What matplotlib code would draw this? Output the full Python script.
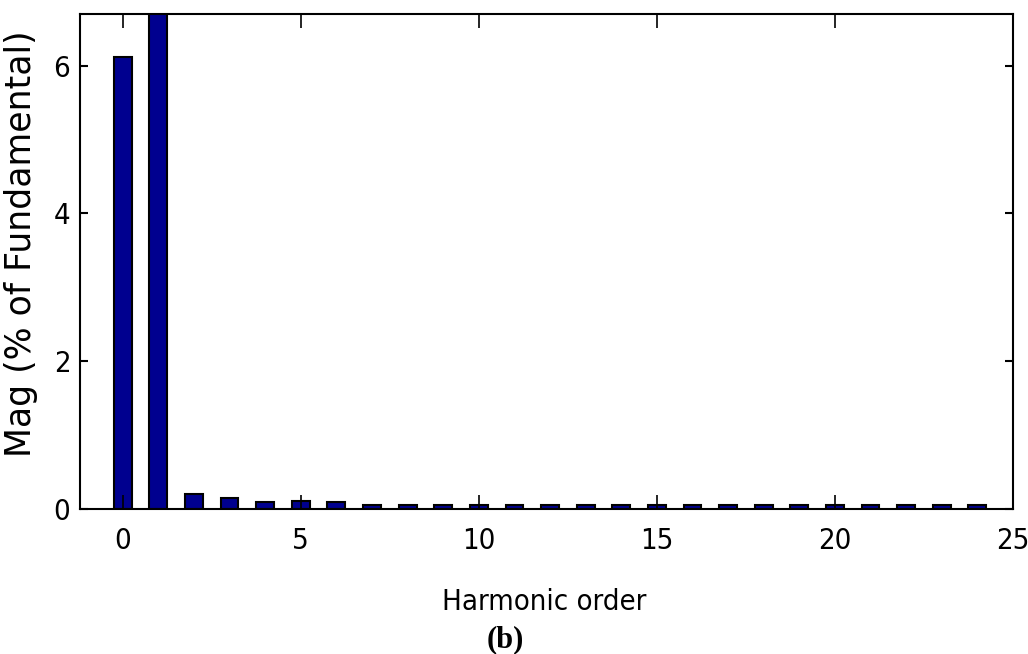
import matplotlib
matplotlib.use("Agg")
import matplotlib.pyplot as plt

# harmonic spectrum (% of fundamental), fundamental bar clipped by ylim
orders = list(range(0, 25))
mags = [6.12, 100.0, 0.20, 0.15, 0.10, 0.11, 0.10, 0.05, 0.05, 0.05, 0.05,
        0.05, 0.05, 0.05, 0.05, 0.05, 0.05, 0.05, 0.05, 0.05, 0.05, 0.05,
        0.05, 0.05, 0.05]
xticks = [0, 5, 10, 15, 20, 25]
yticks = [0, 2, 4, 6]

W, H = 1028, 654
fig = plt.figure(figsize=(W / 100, H / 100), dpi=100)
ax = fig.add_axes([80 / W, 1 - 509 / H, (1013 - 80) / W, (509 - 14) / H])

ax.bar(orders, mags, width=0.5, color="#00008f", edgecolor="black", linewidth=1.5)

ax.set_xlim(-1.2, 25)
ax.set_ylim(0, 6.7)
ax.set_xticks(xticks)
ax.set_yticks(yticks)
ax.tick_params(axis="x", direction="in", length=10, width=1.2, top=True, pad=13)
ax.tick_params(axis="y", direction="in", length=6, width=1.5, right=True, pad=7)
for lab in ax.get_xticklabels() + ax.get_yticklabels():
    lab.set_family("DejaVu Sans")
    lab.set_stretch("condensed")
    lab.set_fontsize(21)
for s in ax.spines.values():
    s.set_linewidth(1.5)

ax.set_xlabel("Harmonic order", family="DejaVu Sans", stretch="condensed", fontsize=21)
ax.xaxis.set_label_coords((544 - 80) / 933, -(588 - 509) / 495)
ax.xaxis.label.set_va("top")
ax.set_ylabel("Mag (% of Fundamental)", family="DejaVu Sans", fontsize=25)
ax.yaxis.set_label_coords(-(80 - 38) / 933, (509 - 244) / 495)

fig.text(505 / W, 1 - 640 / H, "(b)", family="Liberation Serif", fontweight="bold",
         fontsize=22, ha="center", va="center")

fig.savefig("out.png", dpi=100)
